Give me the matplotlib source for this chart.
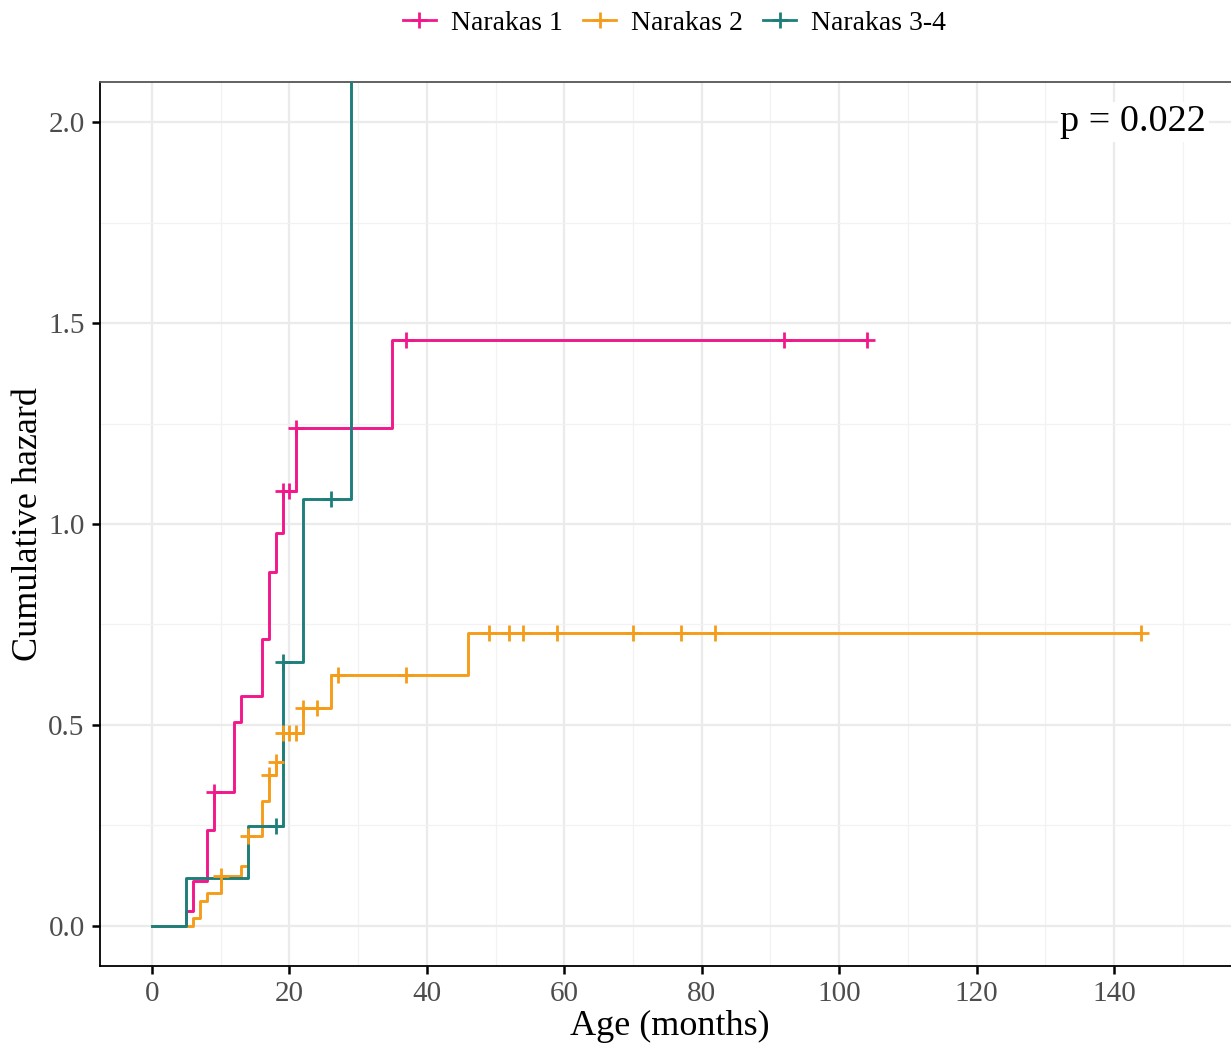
import matplotlib.pyplot as plt
import numpy as np
from matplotlib.lines import Line2D

plt.rcParams['font.family'] = ['Liberation Serif', 'DejaVu Serif']

# cumulative hazard step curves
n1_times = [0, 5, 6, 8, 9, 12, 13, 16, 17, 18, 19, 21, 35, 104]
n1_haz = [0, 0.036, 0.112, 0.239, 0.334, 0.506, 0.571, 0.714, 0.881, 0.978, 1.082, 1.238, 1.459, 1.459]
n1_censor = [9, 19, 20, 21, 37, 92, 104]

n2_times = [0, 6, 7, 8, 10, 13, 14, 16, 17, 18, 19, 22, 26, 46, 144]
n2_haz = [0, 0.019, 0.061, 0.081, 0.125, 0.148, 0.224, 0.311, 0.375, 0.408, 0.481, 0.542, 0.623, 0.729, 0.729]
n2_censor = [10, 14, 17, 18, 19, 20, 21, 22, 24, 27, 37, 49, 52, 54, 59, 70, 77, 82, 144]

n34_times = [0, 5, 14, 19, 22, 29]
n34_haz = [0, 0.119, 0.249, 0.656, 1.061, 3.0]
n34_censor = [18, 19, 26]

labels = ['Narakas 1', 'Narakas 2', 'Narakas 3-4']
colors = ['#F2188C', '#F59D1A', '#1E7F7A']
p_text = 'p = 0.022'

W, H = 1231, 1043
fig = plt.figure(figsize=(W / 100, H / 100), dpi=100)
ax = fig.add_axes([100 / W, (H - 966) / H, (1240 - 100) / W, (966 - 82) / H])

x_left = -7.57
x_right = (1240 - 152) / 6.871
ax.set_xlim(x_left, x_right)
ax.set_ylim(-0.1, 2.1)

ax.set_xticks(np.arange(0, 141, 20))
ax.set_xticks(np.arange(10, 151, 20), minor=True)
ax.set_yticks([0, 0.5, 1.0, 1.5, 2.0])
ax.set_yticks([0.25, 0.75, 1.25, 1.75], minor=True)
ax.set_yticklabels(['0.0', '0.5', '1.0', '1.5', '2.0'])
ax.grid(True, which='major', color='#EBEBEB', linewidth=1.6, zorder=0)
ax.grid(True, which='minor', color='#F2F2F2', linewidth=0.9, zorder=0)
ax.set_axisbelow(True)

groups = [(n1_times, n1_haz, n1_censor), (n2_times, n2_haz, n2_censor),
          (n34_times, n34_haz, n34_censor)]
for (t, h, c), col in zip(groups, colors):
    ax.step(t, h, where='post', color=col, linewidth=2.1, zorder=3)
    idx = np.searchsorted(t, c, side='right') - 1
    cy = np.array(h)[idx]
    ax.plot(c, cy, linestyle='none', marker='+', markersize=12, markeredgewidth=2.0,
            color=col, zorder=4)

ax.text(142.8, 2.0, p_text, fontsize=27.5, ha='center', va='center', zorder=5,
        bbox=dict(facecolor='white', edgecolor='none', pad=2))

for s in ['left', 'bottom']:
    ax.spines[s].set_color('black')
    ax.spines[s].set_linewidth(1.3)
ax.spines['top'].set_color('#555555')
ax.spines['top'].set_linewidth(1.3)
ax.spines['right'].set_visible(False)

ax.tick_params(which='major', length=6, width=1.8, color='black', labelsize=21,
               labelcolor='#4D4D4D', pad=5)
ax.tick_params(which='minor', length=0)

ax.set_xlabel('Age (months)', fontsize=26, labelpad=2)
ax.set_ylabel('Cumulative hazard', fontsize=26, va='center')
ax.yaxis.set_label_coords((29 - 100) / 1140, 0.5)

handles = [Line2D([0], [0], color=col, linewidth=2.0, marker='+', markersize=12,
                  markeredgewidth=2.0) for col in colors]
fig.legend(handles, labels, loc='center', bbox_to_anchor=(674.5 / W, 1 - 23 / H), ncol=3,
           frameon=False, fontsize=20, handlelength=1.2, handletextpad=0.54,
           columnspacing=0.72)

fig.savefig('out.png', dpi=100)
